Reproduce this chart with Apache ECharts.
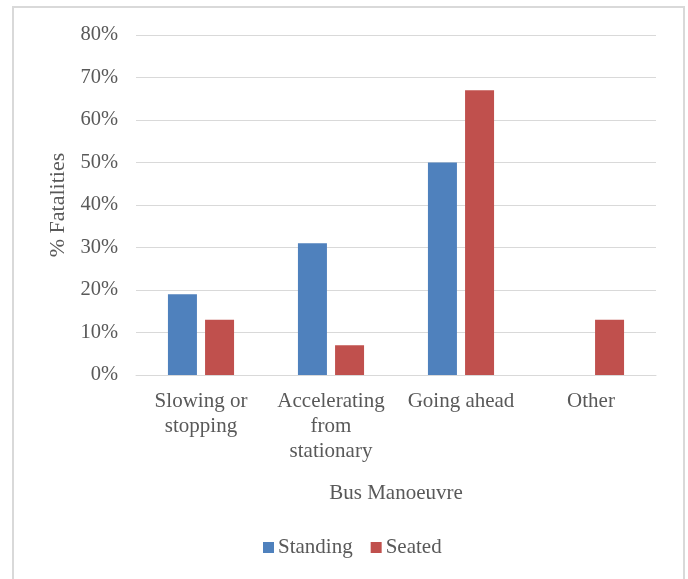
<!DOCTYPE html>
<html><head><meta charset="utf-8">
<script src="https://cdn.jsdelivr.net/npm/echarts@6/dist/echarts.min.js"></script>
<style>html,body{margin:0;padding:0;background:#fff}#c{width:688px;height:579px}</style>
</head><body><div id="c"></div>
<script>
const categories = ['Slowing or\nstopping', 'Accelerating\nfrom\nstationary', 'Going ahead', 'Other'];
const standing = [19, 31, 50, null];
const seated = [13, 7, 67, 13];
const yTicks = [0, 10, 20, 30, 40, 50, 60, 70, 80];

const font = '"Liberation Serif", "Times New Roman", serif';
const txt = '#595959';
const chart = echarts.init(document.getElementById('c'));
chart.setOption({
  animation: false,
  textStyle: { fontFamily: font, color: txt },
  graphic: [{ type: 'rect', shape: { x: 13, y: 7, width: 671, height: 600 }, style: { fill: 'none', stroke: '#D9D9D9', lineWidth: 2 }, silent: true }],
  grid: { left: 136, right: 32, top: 35, bottom: 204, containLabel: false },
  legend: {
    data: ['Standing', 'Seated'], bottom: 16, left: 258, itemWidth: 11, itemHeight: 11, itemGap: 18,
    icon: 'rect', textStyle: { fontFamily: font, fontSize: 21, color: txt, padding: [0, 0, 0, -1] }
  },
  xAxis: {
    type: 'category', data: categories,
    name: 'Bus Manoeuvre', nameLocation: 'middle', nameGap: 108,
    nameTextStyle: { fontFamily: font, fontSize: 21, color: txt },
    axisLine: { lineStyle: { color: '#D9D9D9', width: 1 } },
    axisTick: { show: false },
    axisLabel: { fontFamily: font, fontSize: 21, color: txt, lineHeight: 25, margin: 14, interval: 0 }
  },
  yAxis: {
    type: 'value', min: yTicks[0], max: yTicks[yTicks.length - 1], interval: 10,
    name: '% Fatalities', nameLocation: 'middle', nameGap: 62, nameRotate: 90,
    nameTextStyle: { fontFamily: font, fontSize: 22, color: txt, padding: [0, 0, 0, 0] },
    axisLine: { show: false }, axisTick: { show: false },
    axisLabel: { fontFamily: font, fontSize: 20.5, color: txt, margin: 18, formatter: v => v + '%' },
    splitLine: { lineStyle: { color: '#D9D9D9', width: 1 } }
  },
  series: [
    { name: 'Standing', type: 'bar', data: standing, barWidth: 29, barGap: '28%', itemStyle: { color: '#4F81BD' } },
    { name: 'Seated', type: 'bar', data: seated, barWidth: 29, itemStyle: { color: '#C0504D' } }
  ]
});
</script></body></html>
